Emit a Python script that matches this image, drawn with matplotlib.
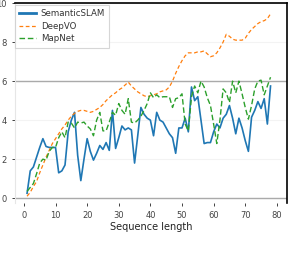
import matplotlib
matplotlib.use("Agg")
import matplotlib.pyplot as plt
import numpy as np

# sequence lengths 1..78
seq_len = np.arange(1, 79)

semantic_slam = [0.25, 1.4, 1.6, 2.1, 2.6, 3.05, 2.65, 2.6, 2.6, 2.6,
                 1.3, 1.4, 1.7, 3.4, 4.0, 4.4, 2.2, 0.9, 2.0, 3.05,
                 2.4, 1.95, 2.3, 2.7, 2.5, 2.85, 2.45, 4.5, 2.55, 3.1,
                 3.7, 3.5, 3.6, 3.5, 1.8, 3.2, 4.65, 4.3, 4.1, 4.0,
                 3.2, 4.4, 4.0, 3.9, 3.6, 3.3, 3.1, 2.3, 3.6, 3.6,
                 4.1, 3.4, 5.7, 5.0, 5.2, 4.0, 2.8, 2.85, 2.85, 3.4,
                 3.8, 3.6, 4.1, 4.3, 4.75, 4.1, 3.3, 4.1, 3.6, 2.95,
                 2.4, 4.15, 4.5, 4.95, 4.6, 5.1, 3.8, 5.75]

deep_vo = [0.1, 0.3, 0.6, 0.85, 1.3, 1.7, 2.1, 2.45, 2.8, 3.05,
           3.3, 3.55, 3.75, 4.0, 4.2, 4.35, 4.45, 4.5, 4.5, 4.45,
           4.4, 4.45, 4.55, 4.65, 4.8, 5.0, 5.15, 5.3, 5.4, 5.55,
           5.65, 5.8, 5.95, 5.75, 5.6, 5.45, 5.35, 5.25, 5.2, 5.25,
           5.3, 5.35, 5.45, 5.5, 5.55, 5.7, 6.0, 6.4, 6.75, 7.05,
           7.3, 7.45, 7.45, 7.45, 7.5, 7.5, 7.55, 7.4, 7.25, 7.3,
           7.45, 7.7, 8.0, 8.4, 8.3, 8.15, 8.1, 8.1, 8.1, 8.2,
           8.45, 8.65, 8.8, 8.95, 9.05, 9.1, 9.2, 9.45]

mapnet = [0.35, 0.55, 0.75, 1.25, 1.8, 2.0, 1.95, 2.4, 2.6, 2.6,
          3.1, 3.4, 3.1, 3.9, 3.85, 3.6, 3.9, 3.85, 3.9, 3.7,
          3.55, 3.2, 4.0, 4.4, 3.45, 3.45, 3.9, 4.4, 4.25, 4.85,
          4.5, 4.3, 5.1, 3.9, 3.85, 4.0, 4.2, 4.5, 4.85, 5.4,
          5.15, 5.3, 5.15, 5.2, 5.2, 5.2, 4.65, 5.1, 5.15, 5.35,
          3.8, 3.45, 5.2, 5.75, 5.4, 6.0, 5.7, 5.15, 4.75, 3.8,
          2.8, 4.0, 5.6, 5.4, 4.9, 6.0, 5.4, 6.0, 5.35, 4.65,
          4.05, 4.75, 5.6, 6.0, 6.05, 5.3, 5.75, 6.2]

xticks = [0, 10, 20, 30, 40, 50, 60, 70, 80]
yticks = [0, 2, 4, 6, 8, 10]

fig = plt.figure(figsize=(2.98, 2.58), dpi=100)
ax = fig.add_axes([0.050, 0.213, 0.913, 0.775])

# faint grid, stronger lines at 0 and 6
for y in yticks:
    ax.axhline(y, color="#f3f3f3", lw=0.8, zorder=0)
ax.axhline(0, color="#aaaaaa", lw=1.0, zorder=1)
ax.axhline(6, color="#aaaaaa", lw=1.0, zorder=1)

ax.plot(seq_len, semantic_slam, color="#1f77b4", lw=1.2, label="SemanticSLAM", zorder=3)
ax.plot(seq_len, deep_vo, color="#ff7f0e", lw=0.9, ls=(0, (3, 2)), label="DeepVO", zorder=3)
ax.plot(seq_len, mapnet, color="#2ca02c", lw=1.0, ls=(0, (4, 2)), label="MapNet", zorder=3)

ax.set_xlim(-2.85, 83.2)
ax.set_ylim(-0.25, 10)
ax.set_xticks(xticks)
ax.set_yticks(yticks)
ax.tick_params(labelsize=6, labelcolor="#444444", color="#222222", length=2.5, width=0.6)
ax.set_xlabel("Sequence length", fontsize=7, color="#222222", labelpad=1.5)

ax.spines["left"].set_color("#e6e6e6")
ax.spines["bottom"].set_visible(False)
ax.spines["top"].set_color("black")
ax.spines["right"].set_color("black")
ax.spines["top"].set_linewidth(1.2)
ax.spines["right"].set_linewidth(1.2)

leg = ax.legend(loc="upper left", bbox_to_anchor=(0.0, 0.99), borderaxespad=0,
                fontsize=6.2, frameon=True, fancybox=False,
                borderpad=0.5, handlelength=1.9, handletextpad=0.6, labelspacing=0.4)
leg.get_frame().set_edgecolor("#cccccc")
leg.get_frame().set_linewidth(0.8)
for t in leg.get_texts():
    t.set_color("#333333")
leg.get_lines()[0].set_linewidth(2.0)

fig.savefig("out.png", dpi=100)
